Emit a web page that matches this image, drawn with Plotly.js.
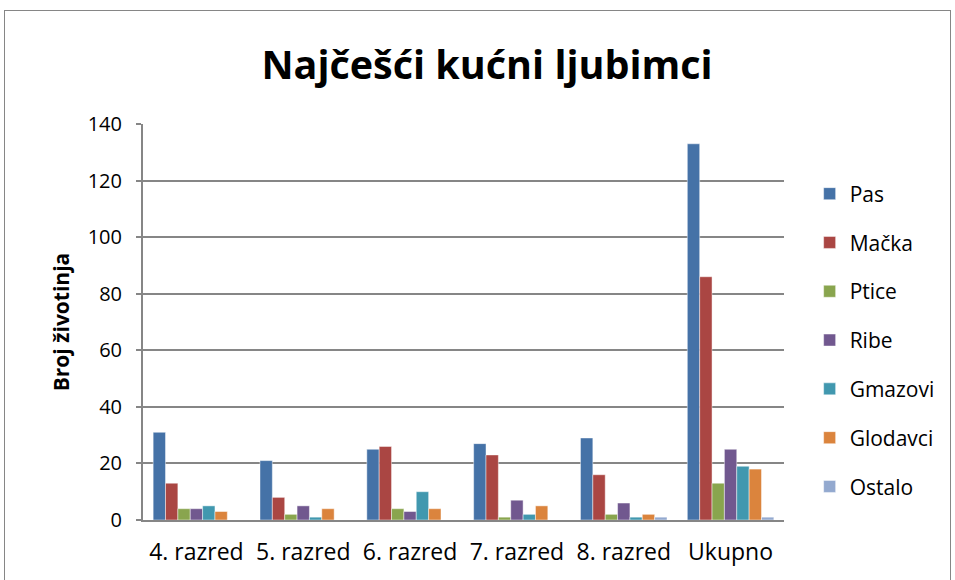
<!DOCTYPE html>
<html>
<head>
<meta charset="utf-8">
<script src="https://cdn.plot.ly/plotly-3.0.1.min.js"></script>
<style>
  body { margin: 0; background: #fff; }
  #myPlot { width: 955px; height: 580px; }
  #frame { position: absolute; left: 4px; top: 10px; width: 945px; height: 600px;
           border: 1px solid #868686; pointer-events: none; }
</style>
</head>
<body>
<div id="myPlot"></div>
<div id="frame"></div>
<script>
const razredi = ['4. razred', '5. razred', '6. razred', '7. razred', '8. razred', 'Ukupno'];
const pas      = [31, 21, 25, 27, 29, 133];
const macka    = [13, 8, 26, 23, 16, 86];
const ptice    = [4, 2, 4, 1, 2, 13];
const ribe     = [4, 5, 3, 7, 6, 25];
const gmazovi  = [5, 1, 10, 2, 1, 19];
const glodavci = [3, 4, 4, 5, 2, 18];
const ostalo   = [0, 0, 0, 0, 1, 1];

const series = [
  ['Pas', pas, '#4572A7'],
  ['Mačka', macka, '#AA4643'],
  ['Ptice', ptice, '#89A54E'],
  ['Ribe', ribe, '#71588F'],
  ['Gmazovi', gmazovi, '#4198AF'],
  ['Glodavci', glodavci, '#DB843D'],
  ['Ostalo', ostalo, '#93A9CF']
];

const data = series.map(function (s) {
  return {
    type: 'bar',
    name: s[0],
    x: razredi,
    y: s[1],
    legendgroup: s[0],
    marker: { color: s[2], line: { color: 'rgba(255,255,255,0.45)', width: 1 } }
  };
});

const layout = {
  width: 955,
  height: 580,
  margin: { l: 143, r: 171, t: 124, b: 60 },
  paper_bgcolor: '#fff',
  plot_bgcolor: '#fff',
  font: { family: 'Open Sans, Noto Sans, sans-serif', color: '#000' },
  title: {
    text: '<b>Najčešći kućni ljubimci</b>',
    font: { size: 39.5, family: 'Open Sans, sans-serif', color: '#000' },
    x: 0.51, xanchor: 'center', y: 0.888, yanchor: 'middle'
  },
  barmode: 'group',
  bargap: 0.19,
  bargroupgap: 0,
  showlegend: true,
  legend: {
    x: 1.04, xanchor: 'left', y: 0.875, yanchor: 'top',
    font: { size: 21 },
    tracegroupgap: 18.5,
    itemwidth: 30
  },
  xaxis: {
    showline: true, linecolor: '#868686', linewidth: 2,
    ticks: '', tickfont: { size: 23 },
    ticklabelstandoff: 10,
    showgrid: false
  },
  yaxis: {
    range: [0, 140], dtick: 20,
    showline: true, linecolor: '#868686', linewidth: 2,
    ticks: 'outside', ticklen: 5, tickcolor: '#868686', tickwidth: 2,
    ticklabelstandoff: 10,
    gridcolor: '#868686', gridwidth: 2,
    tickfont: { size: 20 },
    zeroline: false,
    title: { text: '<b>Broj životinja</b>', font: { size: 21 }, standoff: 12 }
  }
};

Plotly.newPlot('myPlot', data, layout, { displayModeBar: false });
</script>
</body>
</html>
